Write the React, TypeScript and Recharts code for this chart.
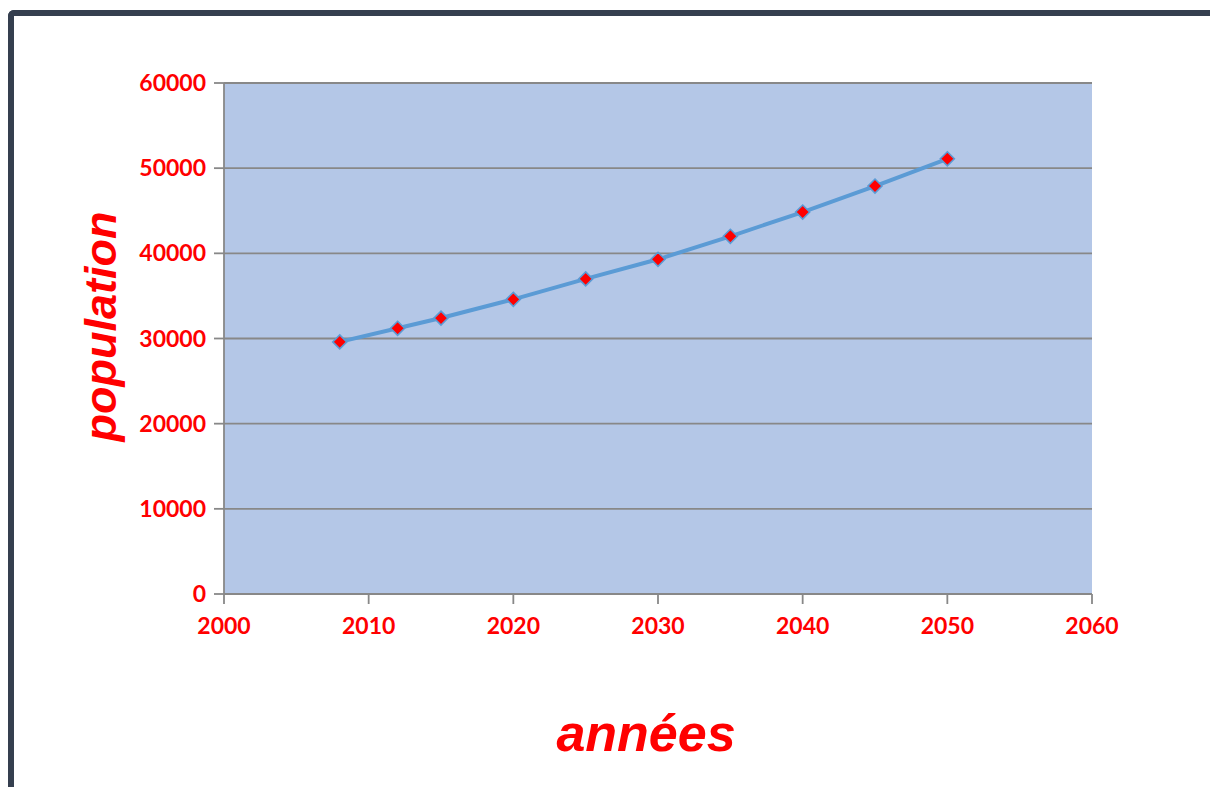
import { LineChart, Line, XAxis, YAxis, CartesianGrid, Label } from "recharts";

// --- DATA ---
const years = [2008, 2012, 2015, 2020, 2025, 2030, 2035, 2040, 2045, 2050];
const population = [29600, 31200, 32400, 34600, 37000, 39300, 42000, 44850, 47900, 51100];
const xTicks = [2000, 2010, 2020, 2030, 2040, 2050, 2060];
const yTicks = [0, 10000, 20000, 30000, 40000, 50000, 60000];

const data = years.map((year, i) => ({ year, population: population[i] }));

const RED = "#ff0000";
const GRID = "#888888";
const LINE_BLUE = "#5b9bd5";

const tickStyle = { fill: RED, fontSize: 23, fontWeight: 700, fontFamily: "Lato" };

// red diamond marker with a blue outline
const Diamond = (props: any) => {
    const { cx, cy, index } = props;
    if (cx == null || cy == null) return <g key={index} />;
    const r = 7;
    return (
        <polygon
            key={index}
            points={`${cx},${cy - r} ${cx + r},${cy} ${cx},${cy + r} ${cx - r},${cy}`}
            fill={RED}
            stroke={LINE_BLUE}
            strokeWidth={1.6}
        />
    );
};

export default function App() {
    return (
        <div
            style={{
                position: "fixed",
                left: 0,
                top: 0,
                width: 1210,
                height: 787,
                background: "#ffffff",
                overflow: "hidden",
            }}
        >
            <div
                style={{
                    position: "absolute",
                    left: 8,
                    top: 10,
                    width: 1220,
                    height: 800,
                    borderTop: "6px solid #353f4f",
                    borderLeft: "6px solid #353f4f",
                    borderTopLeftRadius: 6,
                    boxSizing: "border-box",
                }}
            />
            <div style={{ position: "absolute", left: 0, top: 0 }}>
                <LineChart
                    width={1210}
                    height={787}
                    data={data}
                    margin={{ top: 83, right: 118, left: 0, bottom: 0 }}
                >
                    <CartesianGrid
                        vertical={false}
                        stroke={GRID}
                        strokeWidth={1.8}
                        fill="#b4c7e7"
                        fillOpacity={1}
                    />
                    <XAxis
                        dataKey="year"
                        type="number"
                        domain={[2000, 2060]}
                        ticks={xTicks}
                        height={193}
                        tick={tickStyle}
                        tickSize={10}
                        tickMargin={14}
                        axisLine={{ stroke: GRID, strokeWidth: 1.8 }}
                        tickLine={{ stroke: GRID, strokeWidth: 1.8 }}
                    >
                        <Label
                            content={(p: any) => {
                                const vb = p.viewBox || {};
                                return (
                                    <text
                                        x={vb.x + vb.width / 2 - 12}
                                        y={vb.y + 157}
                                        textAnchor="middle"
                                        fill={RED}
                                        fontSize={52}
                                        fontWeight={700}
                                        fontStyle="italic"
                                        fontFamily="Liberation Sans, Arial, sans-serif"
                                    >
                                        années
                                    </text>
                                );
                            }}
                        />
                    </XAxis>
                    <YAxis
                        type="number"
                        domain={[0, 60000]}
                        ticks={yTicks}
                        width={224}
                        tick={tickStyle}
                        tickSize={10}
                        tickMargin={8}
                        axisLine={{ stroke: GRID, strokeWidth: 1.8 }}
                        tickLine={{ stroke: GRID, strokeWidth: 1.8 }}
                    >
                        <Label
                            content={(p: any) => {
                                const vb = p.viewBox || {};
                                const cy = vb.y + vb.height / 2 - 12;
                                return (
                                    <text
                                        x={116}
                                        y={cy}
                                        transform={`rotate(-90 116 ${cy})`}
                                        textAnchor="middle"
                                        fill={RED}
                                        fontSize={45}
                                        fontWeight={700}
                                        fontStyle="italic"
                                        fontFamily="Liberation Sans, Arial, sans-serif"
                                    >
                                        population
                                    </text>
                                );
                            }}
                        />
                    </YAxis>
                    <Line
                        type="linear"
                        dataKey="population"
                        stroke={LINE_BLUE}
                        strokeWidth={4}
                        dot={Diamond}
                        activeDot={false}
                        isAnimationActive={false}
                    />
                </LineChart>
            </div>
        </div>
    );
}
